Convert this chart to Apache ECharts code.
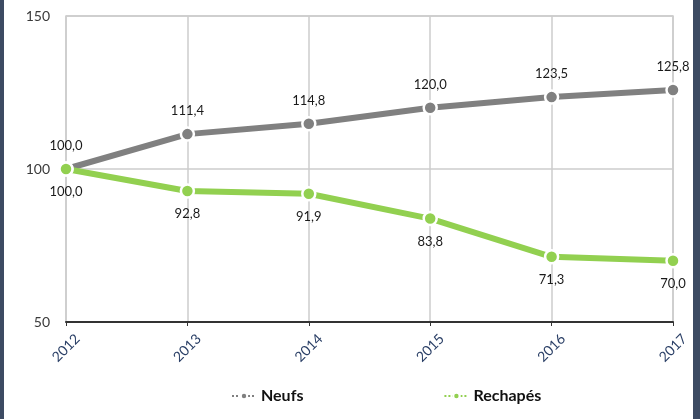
<!DOCTYPE html>
<html><head><meta charset="utf-8">
<script src="https://cdn.jsdelivr.net/npm/echarts@6/dist/echarts.min.js"></script>
<style>html,body{margin:0;padding:0;background:#fff}#c{width:700px;height:419px}</style>
</head><body><div id="c"></div>
<script>
const categories = ['2012','2013','2014','2015','2016','2017'];
const neufs = [100.0, 111.4, 114.8, 120.0, 123.5, 125.8];
const rechapes = [100.0, 92.8, 91.9, 83.8, 71.3, 70.0];
const seriesNames = ['Neufs','Rechapés'];
const fmt = p => p.value.toFixed(1).replace('.', ',');
const chart = echarts.init(document.getElementById('c'));
const font = 'Lato, "Open Sans", sans-serif';
chart.setOption({
  animation:false,
  graphic:[
    {type:'rect',left:0,top:0,shape:{width:4,height:419},style:{fill:'#3d4b63'}},
    {type:'rect',right:0,top:0,shape:{width:7,height:419},style:{fill:'#3d4b63'}}
  ],
  grid:{left:66,right:27,top:16,bottom:97,show:true,borderColor:'#cccccc',borderWidth:1.5},
  legend:{top:383,left:226,itemGap:140,itemWidth:24,itemHeight:8,
    lineStyle:{width:2,type:'dotted'},
    textStyle:{fontFamily:font,fontSize:16,fontWeight:'bold',color:'#111'},
    data:seriesNames},
  xAxis:{type:'category',data:categories,boundaryGap:false,
    axisLine:{lineStyle:{color:'#333',width:2}},
    axisTick:{show:true,length:4,lineStyle:{color:'#333'}},
    axisLabel:{rotate:45,align:'center',verticalAlign:'middle',color:'#2a3f66',fontFamily:font,fontSize:14,margin:26},
    splitLine:{show:true,lineStyle:{color:'#cccccc',width:1.5}}},
  yAxis:{type:'value',min:50,max:150,interval:50,
    axisLine:{show:false},axisTick:{show:false},
    axisLabel:{color:'#3a3a3a',fontFamily:font,fontSize:14,margin:16},
    splitLine:{lineStyle:{color:'#cccccc',width:1.5}}},
  series:[
    {name:seriesNames[0],type:'line',data:neufs,symbol:'circle',symbolSize:13,
      lineStyle:{color:'#808080',width:6},
      itemStyle:{color:'#808080',borderColor:'#fff',borderWidth:2.5},
      label:{show:true,position:'top',distance:9,formatter:fmt,fontFamily:font,fontSize:13,color:'#1a1a1a'}},
    {name:seriesNames[1],type:'line',data:rechapes,symbol:'circle',symbolSize:13,
      lineStyle:{color:'#92d050',width:6},
      itemStyle:{color:'#92d050',borderColor:'#fff',borderWidth:2.5},
      label:{show:true,position:'bottom',distance:9,formatter:fmt,fontFamily:font,fontSize:13,color:'#1a1a1a'}}
  ]
});
</script></body></html>
